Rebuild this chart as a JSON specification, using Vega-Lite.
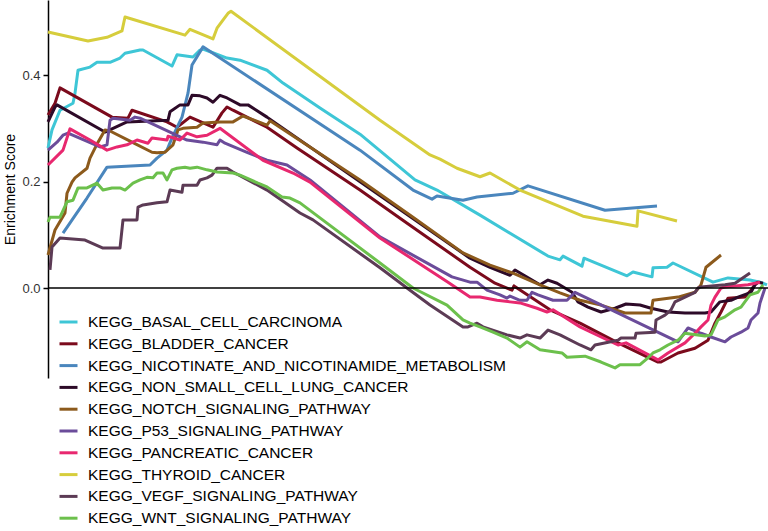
{
  "$schema": "https://vega.github.io/schema/vega-lite/v6.json",
  "width": 720,
  "height": 378,
  "autosize": {"type": "none"},
  "padding": {"left": 48, "top": 0, "right": 0, "bottom": 153},
  "background": "white",
  "config": {"view": {"stroke": null}, "font": "Liberation Sans"},
  "data": {
    "values": [
      {"s": "KEGG_BASAL_CELL_CARCINOMA", "x": 0, "y": 0.263},
      {"s": "KEGG_BASAL_CELL_CARCINOMA", "x": 4, "y": 0.297},
      {"s": "KEGG_BASAL_CELL_CARCINOMA", "x": 12, "y": 0.334},
      {"s": "KEGG_BASAL_CELL_CARCINOMA", "x": 25, "y": 0.347},
      {"s": "KEGG_BASAL_CELL_CARCINOMA", "x": 27, "y": 0.366},
      {"s": "KEGG_BASAL_CELL_CARCINOMA", "x": 30, "y": 0.409},
      {"s": "KEGG_BASAL_CELL_CARCINOMA", "x": 42, "y": 0.415},
      {"s": "KEGG_BASAL_CELL_CARCINOMA", "x": 49, "y": 0.424},
      {"s": "KEGG_BASAL_CELL_CARCINOMA", "x": 62, "y": 0.424},
      {"s": "KEGG_BASAL_CELL_CARCINOMA", "x": 72, "y": 0.432},
      {"s": "KEGG_BASAL_CELL_CARCINOMA", "x": 77, "y": 0.441},
      {"s": "KEGG_BASAL_CELL_CARCINOMA", "x": 92, "y": 0.447},
      {"s": "KEGG_BASAL_CELL_CARCINOMA", "x": 95, "y": 0.447},
      {"s": "KEGG_BASAL_CELL_CARCINOMA", "x": 124, "y": 0.417},
      {"s": "KEGG_BASAL_CELL_CARCINOMA", "x": 129, "y": 0.438},
      {"s": "KEGG_BASAL_CELL_CARCINOMA", "x": 145, "y": 0.434},
      {"s": "KEGG_BASAL_CELL_CARCINOMA", "x": 152, "y": 0.447},
      {"s": "KEGG_BASAL_CELL_CARCINOMA", "x": 155, "y": 0.449},
      {"s": "KEGG_BASAL_CELL_CARCINOMA", "x": 179, "y": 0.432},
      {"s": "KEGG_BASAL_CELL_CARCINOMA", "x": 192, "y": 0.428},
      {"s": "KEGG_BASAL_CELL_CARCINOMA", "x": 219, "y": 0.409},
      {"s": "KEGG_BASAL_CELL_CARCINOMA", "x": 235, "y": 0.385},
      {"s": "KEGG_BASAL_CELL_CARCINOMA", "x": 272, "y": 0.338},
      {"s": "KEGG_BASAL_CELL_CARCINOMA", "x": 312, "y": 0.289},
      {"s": "KEGG_BASAL_CELL_CARCINOMA", "x": 367, "y": 0.203},
      {"s": "KEGG_BASAL_CELL_CARCINOMA", "x": 389, "y": 0.184},
      {"s": "KEGG_BASAL_CELL_CARCINOMA", "x": 432, "y": 0.137},
      {"s": "KEGG_BASAL_CELL_CARCINOMA", "x": 500, "y": 0.060},
      {"s": "KEGG_BASAL_CELL_CARCINOMA", "x": 512, "y": 0.053},
      {"s": "KEGG_BASAL_CELL_CARCINOMA", "x": 515, "y": 0.060},
      {"s": "KEGG_BASAL_CELL_CARCINOMA", "x": 534, "y": 0.041},
      {"s": "KEGG_BASAL_CELL_CARCINOMA", "x": 536, "y": 0.056},
      {"s": "KEGG_BASAL_CELL_CARCINOMA", "x": 579, "y": 0.023},
      {"s": "KEGG_BASAL_CELL_CARCINOMA", "x": 585, "y": 0.030},
      {"s": "KEGG_BASAL_CELL_CARCINOMA", "x": 604, "y": 0.021},
      {"s": "KEGG_BASAL_CELL_CARCINOMA", "x": 605, "y": 0.038},
      {"s": "KEGG_BASAL_CELL_CARCINOMA", "x": 619, "y": 0.039},
      {"s": "KEGG_BASAL_CELL_CARCINOMA", "x": 625, "y": 0.047},
      {"s": "KEGG_BASAL_CELL_CARCINOMA", "x": 665, "y": 0.011},
      {"s": "KEGG_BASAL_CELL_CARCINOMA", "x": 680, "y": 0.019},
      {"s": "KEGG_BASAL_CELL_CARCINOMA", "x": 702, "y": 0.015},
      {"s": "KEGG_BASAL_CELL_CARCINOMA", "x": 712, "y": 0.011},
      {"s": "KEGG_BASAL_CELL_CARCINOMA", "x": 719, "y": 0.006},

      {"s": "KEGG_BLADDER_CANCER", "x": 0, "y": 0.325},
      {"s": "KEGG_BLADDER_CANCER", "x": 7, "y": 0.347},
      {"s": "KEGG_BLADDER_CANCER", "x": 12, "y": 0.376},
      {"s": "KEGG_BLADDER_CANCER", "x": 64, "y": 0.321},
      {"s": "KEGG_BLADDER_CANCER", "x": 80, "y": 0.319},
      {"s": "KEGG_BLADDER_CANCER", "x": 84, "y": 0.334},
      {"s": "KEGG_BLADDER_CANCER", "x": 119, "y": 0.312},
      {"s": "KEGG_BLADDER_CANCER", "x": 129, "y": 0.302},
      {"s": "KEGG_BLADDER_CANCER", "x": 142, "y": 0.321},
      {"s": "KEGG_BLADDER_CANCER", "x": 165, "y": 0.302},
      {"s": "KEGG_BLADDER_CANCER", "x": 174, "y": 0.329},
      {"s": "KEGG_BLADDER_CANCER", "x": 179, "y": 0.340},
      {"s": "KEGG_BLADDER_CANCER", "x": 185, "y": 0.334},
      {"s": "KEGG_BLADDER_CANCER", "x": 219, "y": 0.302},
      {"s": "KEGG_BLADDER_CANCER", "x": 249, "y": 0.263},
      {"s": "KEGG_BLADDER_CANCER", "x": 312, "y": 0.184},
      {"s": "KEGG_BLADDER_CANCER", "x": 352, "y": 0.131},
      {"s": "KEGG_BLADDER_CANCER", "x": 422, "y": 0.039},
      {"s": "KEGG_BLADDER_CANCER", "x": 447, "y": 0.009},
      {"s": "KEGG_BLADDER_CANCER", "x": 464, "y": -0.004},
      {"s": "KEGG_BLADDER_CANCER", "x": 466, "y": 0.004},
      {"s": "KEGG_BLADDER_CANCER", "x": 502, "y": -0.041},
      {"s": "KEGG_BLADDER_CANCER", "x": 532, "y": -0.066},
      {"s": "KEGG_BLADDER_CANCER", "x": 570, "y": -0.103},
      {"s": "KEGG_BLADDER_CANCER", "x": 610, "y": -0.139},
      {"s": "KEGG_BLADDER_CANCER", "x": 613, "y": -0.139},
      {"s": "KEGG_BLADDER_CANCER", "x": 630, "y": -0.122},
      {"s": "KEGG_BLADDER_CANCER", "x": 647, "y": -0.113},
      {"s": "KEGG_BLADDER_CANCER", "x": 660, "y": -0.098},
      {"s": "KEGG_BLADDER_CANCER", "x": 667, "y": -0.066},
      {"s": "KEGG_BLADDER_CANCER", "x": 673, "y": -0.045},
      {"s": "KEGG_BLADDER_CANCER", "x": 680, "y": -0.019},
      {"s": "KEGG_BLADDER_CANCER", "x": 697, "y": -0.017},
      {"s": "KEGG_BLADDER_CANCER", "x": 703, "y": -0.004},
      {"s": "KEGG_BLADDER_CANCER", "x": 708, "y": 0.009},
      {"s": "KEGG_BLADDER_CANCER", "x": 712, "y": 0.011},

      {"s": "KEGG_NICOTINATE_AND_NICOTINAMIDE_METABOLISM", "x": 15, "y": 0.103},
      {"s": "KEGG_NICOTINATE_AND_NICOTINAMIDE_METABOLISM", "x": 39, "y": 0.169},
      {"s": "KEGG_NICOTINATE_AND_NICOTINAMIDE_METABOLISM", "x": 59, "y": 0.227},
      {"s": "KEGG_NICOTINATE_AND_NICOTINAMIDE_METABOLISM", "x": 102, "y": 0.231},
      {"s": "KEGG_NICOTINATE_AND_NICOTINAMIDE_METABOLISM", "x": 109, "y": 0.244},
      {"s": "KEGG_NICOTINATE_AND_NICOTINAMIDE_METABOLISM", "x": 119, "y": 0.259},
      {"s": "KEGG_NICOTINATE_AND_NICOTINAMIDE_METABOLISM", "x": 124, "y": 0.282},
      {"s": "KEGG_NICOTINATE_AND_NICOTINAMIDE_METABOLISM", "x": 134, "y": 0.321},
      {"s": "KEGG_NICOTINATE_AND_NICOTINAMIDE_METABOLISM", "x": 140, "y": 0.366},
      {"s": "KEGG_NICOTINATE_AND_NICOTINAMIDE_METABOLISM", "x": 144, "y": 0.419},
      {"s": "KEGG_NICOTINATE_AND_NICOTINAMIDE_METABOLISM", "x": 155, "y": 0.453},
      {"s": "KEGG_NICOTINATE_AND_NICOTINAMIDE_METABOLISM", "x": 312, "y": 0.259},
      {"s": "KEGG_NICOTINATE_AND_NICOTINAMIDE_METABOLISM", "x": 365, "y": 0.184},
      {"s": "KEGG_NICOTINATE_AND_NICOTINAMIDE_METABOLISM", "x": 384, "y": 0.167},
      {"s": "KEGG_NICOTINATE_AND_NICOTINAMIDE_METABOLISM", "x": 389, "y": 0.173},
      {"s": "KEGG_NICOTINATE_AND_NICOTINAMIDE_METABOLISM", "x": 415, "y": 0.165},
      {"s": "KEGG_NICOTINATE_AND_NICOTINAMIDE_METABOLISM", "x": 429, "y": 0.171},
      {"s": "KEGG_NICOTINATE_AND_NICOTINAMIDE_METABOLISM", "x": 465, "y": 0.178},
      {"s": "KEGG_NICOTINATE_AND_NICOTINAMIDE_METABOLISM", "x": 480, "y": 0.192},
      {"s": "KEGG_NICOTINATE_AND_NICOTINAMIDE_METABOLISM", "x": 557, "y": 0.146},
      {"s": "KEGG_NICOTINATE_AND_NICOTINAMIDE_METABOLISM", "x": 609, "y": 0.154},

      {"s": "KEGG_NON_SMALL_CELL_LUNG_CANCER", "x": 0, "y": 0.312},
      {"s": "KEGG_NON_SMALL_CELL_LUNG_CANCER", "x": 7, "y": 0.340},
      {"s": "KEGG_NON_SMALL_CELL_LUNG_CANCER", "x": 9, "y": 0.344},
      {"s": "KEGG_NON_SMALL_CELL_LUNG_CANCER", "x": 57, "y": 0.293},
      {"s": "KEGG_NON_SMALL_CELL_LUNG_CANCER", "x": 79, "y": 0.312},
      {"s": "KEGG_NON_SMALL_CELL_LUNG_CANCER", "x": 120, "y": 0.315},
      {"s": "KEGG_NON_SMALL_CELL_LUNG_CANCER", "x": 122, "y": 0.331},
      {"s": "KEGG_NON_SMALL_CELL_LUNG_CANCER", "x": 132, "y": 0.344},
      {"s": "KEGG_NON_SMALL_CELL_LUNG_CANCER", "x": 140, "y": 0.344},
      {"s": "KEGG_NON_SMALL_CELL_LUNG_CANCER", "x": 144, "y": 0.362},
      {"s": "KEGG_NON_SMALL_CELL_LUNG_CANCER", "x": 152, "y": 0.361},
      {"s": "KEGG_NON_SMALL_CELL_LUNG_CANCER", "x": 159, "y": 0.357},
      {"s": "KEGG_NON_SMALL_CELL_LUNG_CANCER", "x": 165, "y": 0.349},
      {"s": "KEGG_NON_SMALL_CELL_LUNG_CANCER", "x": 172, "y": 0.362},
      {"s": "KEGG_NON_SMALL_CELL_LUNG_CANCER", "x": 179, "y": 0.357},
      {"s": "KEGG_NON_SMALL_CELL_LUNG_CANCER", "x": 192, "y": 0.344},
      {"s": "KEGG_NON_SMALL_CELL_LUNG_CANCER", "x": 200, "y": 0.344},
      {"s": "KEGG_NON_SMALL_CELL_LUNG_CANCER", "x": 219, "y": 0.321},
      {"s": "KEGG_NON_SMALL_CELL_LUNG_CANCER", "x": 422, "y": 0.056},
      {"s": "KEGG_NON_SMALL_CELL_LUNG_CANCER", "x": 442, "y": 0.039},
      {"s": "KEGG_NON_SMALL_CELL_LUNG_CANCER", "x": 462, "y": 0.024},
      {"s": "KEGG_NON_SMALL_CELL_LUNG_CANCER", "x": 467, "y": 0.034},
      {"s": "KEGG_NON_SMALL_CELL_LUNG_CANCER", "x": 492, "y": 0.006},
      {"s": "KEGG_NON_SMALL_CELL_LUNG_CANCER", "x": 500, "y": 0.015},
      {"s": "KEGG_NON_SMALL_CELL_LUNG_CANCER", "x": 509, "y": 0.009},
      {"s": "KEGG_NON_SMALL_CELL_LUNG_CANCER", "x": 524, "y": -0.008},
      {"s": "KEGG_NON_SMALL_CELL_LUNG_CANCER", "x": 530, "y": -0.026},
      {"s": "KEGG_NON_SMALL_CELL_LUNG_CANCER", "x": 540, "y": -0.036},
      {"s": "KEGG_NON_SMALL_CELL_LUNG_CANCER", "x": 553, "y": -0.045},
      {"s": "KEGG_NON_SMALL_CELL_LUNG_CANCER", "x": 567, "y": -0.038},
      {"s": "KEGG_NON_SMALL_CELL_LUNG_CANCER", "x": 578, "y": -0.030},
      {"s": "KEGG_NON_SMALL_CELL_LUNG_CANCER", "x": 592, "y": -0.032},
      {"s": "KEGG_NON_SMALL_CELL_LUNG_CANCER", "x": 603, "y": -0.038},
      {"s": "KEGG_NON_SMALL_CELL_LUNG_CANCER", "x": 620, "y": -0.045},
      {"s": "KEGG_NON_SMALL_CELL_LUNG_CANCER", "x": 637, "y": -0.047},
      {"s": "KEGG_NON_SMALL_CELL_LUNG_CANCER", "x": 657, "y": -0.047},
      {"s": "KEGG_NON_SMALL_CELL_LUNG_CANCER", "x": 663, "y": -0.045},
      {"s": "KEGG_NON_SMALL_CELL_LUNG_CANCER", "x": 672, "y": -0.026},
      {"s": "KEGG_NON_SMALL_CELL_LUNG_CANCER", "x": 683, "y": -0.023},
      {"s": "KEGG_NON_SMALL_CELL_LUNG_CANCER", "x": 690, "y": -0.017},
      {"s": "KEGG_NON_SMALL_CELL_LUNG_CANCER", "x": 703, "y": -0.008},
      {"s": "KEGG_NON_SMALL_CELL_LUNG_CANCER", "x": 707, "y": 0.006},
      {"s": "KEGG_NON_SMALL_CELL_LUNG_CANCER", "x": 710, "y": 0.011},
      {"s": "KEGG_NON_SMALL_CELL_LUNG_CANCER", "x": 715, "y": 0.009},

      {"s": "KEGG_NOTCH_SIGNALING_PATHWAY", "x": 0, "y": 0.062},
      {"s": "KEGG_NOTCH_SIGNALING_PATHWAY", "x": 7, "y": 0.109},
      {"s": "KEGG_NOTCH_SIGNALING_PATHWAY", "x": 17, "y": 0.141},
      {"s": "KEGG_NOTCH_SIGNALING_PATHWAY", "x": 19, "y": 0.178},
      {"s": "KEGG_NOTCH_SIGNALING_PATHWAY", "x": 24, "y": 0.199},
      {"s": "KEGG_NOTCH_SIGNALING_PATHWAY", "x": 27, "y": 0.207},
      {"s": "KEGG_NOTCH_SIGNALING_PATHWAY", "x": 39, "y": 0.225},
      {"s": "KEGG_NOTCH_SIGNALING_PATHWAY", "x": 42, "y": 0.244},
      {"s": "KEGG_NOTCH_SIGNALING_PATHWAY", "x": 50, "y": 0.274},
      {"s": "KEGG_NOTCH_SIGNALING_PATHWAY", "x": 57, "y": 0.297},
      {"s": "KEGG_NOTCH_SIGNALING_PATHWAY", "x": 62, "y": 0.295},
      {"s": "KEGG_NOTCH_SIGNALING_PATHWAY", "x": 84, "y": 0.274},
      {"s": "KEGG_NOTCH_SIGNALING_PATHWAY", "x": 104, "y": 0.255},
      {"s": "KEGG_NOTCH_SIGNALING_PATHWAY", "x": 109, "y": 0.254},
      {"s": "KEGG_NOTCH_SIGNALING_PATHWAY", "x": 117, "y": 0.255},
      {"s": "KEGG_NOTCH_SIGNALING_PATHWAY", "x": 125, "y": 0.269},
      {"s": "KEGG_NOTCH_SIGNALING_PATHWAY", "x": 130, "y": 0.297},
      {"s": "KEGG_NOTCH_SIGNALING_PATHWAY", "x": 135, "y": 0.300},
      {"s": "KEGG_NOTCH_SIGNALING_PATHWAY", "x": 149, "y": 0.302},
      {"s": "KEGG_NOTCH_SIGNALING_PATHWAY", "x": 155, "y": 0.310},
      {"s": "KEGG_NOTCH_SIGNALING_PATHWAY", "x": 172, "y": 0.312},
      {"s": "KEGG_NOTCH_SIGNALING_PATHWAY", "x": 185, "y": 0.312},
      {"s": "KEGG_NOTCH_SIGNALING_PATHWAY", "x": 195, "y": 0.323},
      {"s": "KEGG_NOTCH_SIGNALING_PATHWAY", "x": 219, "y": 0.306},
      {"s": "KEGG_NOTCH_SIGNALING_PATHWAY", "x": 222, "y": 0.314},
      {"s": "KEGG_NOTCH_SIGNALING_PATHWAY", "x": 312, "y": 0.203},
      {"s": "KEGG_NOTCH_SIGNALING_PATHWAY", "x": 365, "y": 0.133},
      {"s": "KEGG_NOTCH_SIGNALING_PATHWAY", "x": 415, "y": 0.066},
      {"s": "KEGG_NOTCH_SIGNALING_PATHWAY", "x": 442, "y": 0.043},
      {"s": "KEGG_NOTCH_SIGNALING_PATHWAY", "x": 465, "y": 0.028},
      {"s": "KEGG_NOTCH_SIGNALING_PATHWAY", "x": 492, "y": 0.006},
      {"s": "KEGG_NOTCH_SIGNALING_PATHWAY", "x": 512, "y": -0.009},
      {"s": "KEGG_NOTCH_SIGNALING_PATHWAY", "x": 532, "y": -0.023},
      {"s": "KEGG_NOTCH_SIGNALING_PATHWAY", "x": 553, "y": -0.032},
      {"s": "KEGG_NOTCH_SIGNALING_PATHWAY", "x": 577, "y": -0.047},
      {"s": "KEGG_NOTCH_SIGNALING_PATHWAY", "x": 603, "y": -0.047},
      {"s": "KEGG_NOTCH_SIGNALING_PATHWAY", "x": 605, "y": -0.023},
      {"s": "KEGG_NOTCH_SIGNALING_PATHWAY", "x": 630, "y": -0.017},
      {"s": "KEGG_NOTCH_SIGNALING_PATHWAY", "x": 647, "y": -0.008},
      {"s": "KEGG_NOTCH_SIGNALING_PATHWAY", "x": 653, "y": 0.006},
      {"s": "KEGG_NOTCH_SIGNALING_PATHWAY", "x": 658, "y": 0.039},
      {"s": "KEGG_NOTCH_SIGNALING_PATHWAY", "x": 673, "y": 0.062},

      {"s": "KEGG_P53_SIGNALING_PATHWAY", "x": 0, "y": 0.259},
      {"s": "KEGG_P53_SIGNALING_PATHWAY", "x": 9, "y": 0.274},
      {"s": "KEGG_P53_SIGNALING_PATHWAY", "x": 15, "y": 0.287},
      {"s": "KEGG_P53_SIGNALING_PATHWAY", "x": 20, "y": 0.291},
      {"s": "KEGG_P53_SIGNALING_PATHWAY", "x": 52, "y": 0.265},
      {"s": "KEGG_P53_SIGNALING_PATHWAY", "x": 59, "y": 0.269},
      {"s": "KEGG_P53_SIGNALING_PATHWAY", "x": 62, "y": 0.315},
      {"s": "KEGG_P53_SIGNALING_PATHWAY", "x": 65, "y": 0.319},
      {"s": "KEGG_P53_SIGNALING_PATHWAY", "x": 82, "y": 0.315},
      {"s": "KEGG_P53_SIGNALING_PATHWAY", "x": 87, "y": 0.321},
      {"s": "KEGG_P53_SIGNALING_PATHWAY", "x": 92, "y": 0.319},
      {"s": "KEGG_P53_SIGNALING_PATHWAY", "x": 122, "y": 0.293},
      {"s": "KEGG_P53_SIGNALING_PATHWAY", "x": 139, "y": 0.278},
      {"s": "KEGG_P53_SIGNALING_PATHWAY", "x": 155, "y": 0.274},
      {"s": "KEGG_P53_SIGNALING_PATHWAY", "x": 169, "y": 0.269},
      {"s": "KEGG_P53_SIGNALING_PATHWAY", "x": 172, "y": 0.278},
      {"s": "KEGG_P53_SIGNALING_PATHWAY", "x": 177, "y": 0.272},
      {"s": "KEGG_P53_SIGNALING_PATHWAY", "x": 199, "y": 0.255},
      {"s": "KEGG_P53_SIGNALING_PATHWAY", "x": 219, "y": 0.240},
      {"s": "KEGG_P53_SIGNALING_PATHWAY", "x": 239, "y": 0.231},
      {"s": "KEGG_P53_SIGNALING_PATHWAY", "x": 262, "y": 0.203},
      {"s": "KEGG_P53_SIGNALING_PATHWAY", "x": 332, "y": 0.096},
      {"s": "KEGG_P53_SIGNALING_PATHWAY", "x": 404, "y": 0.021},
      {"s": "KEGG_P53_SIGNALING_PATHWAY", "x": 422, "y": 0.011},
      {"s": "KEGG_P53_SIGNALING_PATHWAY", "x": 429, "y": 0.011},
      {"s": "KEGG_P53_SIGNALING_PATHWAY", "x": 439, "y": -0.004},
      {"s": "KEGG_P53_SIGNALING_PATHWAY", "x": 452, "y": -0.013},
      {"s": "KEGG_P53_SIGNALING_PATHWAY", "x": 459, "y": -0.019},
      {"s": "KEGG_P53_SIGNALING_PATHWAY", "x": 462, "y": -0.015},
      {"s": "KEGG_P53_SIGNALING_PATHWAY", "x": 472, "y": -0.023},
      {"s": "KEGG_P53_SIGNALING_PATHWAY", "x": 479, "y": -0.023},
      {"s": "KEGG_P53_SIGNALING_PATHWAY", "x": 484, "y": -0.008},
      {"s": "KEGG_P53_SIGNALING_PATHWAY", "x": 490, "y": -0.013},
      {"s": "KEGG_P53_SIGNALING_PATHWAY", "x": 505, "y": -0.023},
      {"s": "KEGG_P53_SIGNALING_PATHWAY", "x": 519, "y": -0.023},
      {"s": "KEGG_P53_SIGNALING_PATHWAY", "x": 527, "y": -0.008},
      {"s": "KEGG_P53_SIGNALING_PATHWAY", "x": 630, "y": -0.101},
      {"s": "KEGG_P53_SIGNALING_PATHWAY", "x": 640, "y": -0.075},
      {"s": "KEGG_P53_SIGNALING_PATHWAY", "x": 653, "y": -0.085},
      {"s": "KEGG_P53_SIGNALING_PATHWAY", "x": 663, "y": -0.092},
      {"s": "KEGG_P53_SIGNALING_PATHWAY", "x": 677, "y": -0.101},
      {"s": "KEGG_P53_SIGNALING_PATHWAY", "x": 683, "y": -0.092},
      {"s": "KEGG_P53_SIGNALING_PATHWAY", "x": 693, "y": -0.083},
      {"s": "KEGG_P53_SIGNALING_PATHWAY", "x": 700, "y": -0.075},
      {"s": "KEGG_P53_SIGNALING_PATHWAY", "x": 703, "y": -0.060},
      {"s": "KEGG_P53_SIGNALING_PATHWAY", "x": 710, "y": -0.047},
      {"s": "KEGG_P53_SIGNALING_PATHWAY", "x": 712, "y": -0.028},
      {"s": "KEGG_P53_SIGNALING_PATHWAY", "x": 717, "y": 0.000},

      {"s": "KEGG_PANCREATIC_CANCER", "x": 0, "y": 0.231},
      {"s": "KEGG_PANCREATIC_CANCER", "x": 15, "y": 0.259},
      {"s": "KEGG_PANCREATIC_CANCER", "x": 22, "y": 0.299},
      {"s": "KEGG_PANCREATIC_CANCER", "x": 42, "y": 0.278},
      {"s": "KEGG_PANCREATIC_CANCER", "x": 59, "y": 0.259},
      {"s": "KEGG_PANCREATIC_CANCER", "x": 69, "y": 0.265},
      {"s": "KEGG_PANCREATIC_CANCER", "x": 79, "y": 0.269},
      {"s": "KEGG_PANCREATIC_CANCER", "x": 89, "y": 0.278},
      {"s": "KEGG_PANCREATIC_CANCER", "x": 100, "y": 0.272},
      {"s": "KEGG_PANCREATIC_CANCER", "x": 104, "y": 0.282},
      {"s": "KEGG_PANCREATIC_CANCER", "x": 119, "y": 0.278},
      {"s": "KEGG_PANCREATIC_CANCER", "x": 120, "y": 0.285},
      {"s": "KEGG_PANCREATIC_CANCER", "x": 132, "y": 0.278},
      {"s": "KEGG_PANCREATIC_CANCER", "x": 139, "y": 0.291},
      {"s": "KEGG_PANCREATIC_CANCER", "x": 149, "y": 0.284},
      {"s": "KEGG_PANCREATIC_CANCER", "x": 159, "y": 0.287},
      {"s": "KEGG_PANCREATIC_CANCER", "x": 172, "y": 0.300},
      {"s": "KEGG_PANCREATIC_CANCER", "x": 215, "y": 0.240},
      {"s": "KEGG_PANCREATIC_CANCER", "x": 245, "y": 0.216},
      {"s": "KEGG_PANCREATIC_CANCER", "x": 262, "y": 0.199},
      {"s": "KEGG_PANCREATIC_CANCER", "x": 332, "y": 0.094},
      {"s": "KEGG_PANCREATIC_CANCER", "x": 400, "y": 0.011},
      {"s": "KEGG_PANCREATIC_CANCER", "x": 422, "y": -0.017},
      {"s": "KEGG_PANCREATIC_CANCER", "x": 432, "y": -0.017},
      {"s": "KEGG_PANCREATIC_CANCER", "x": 449, "y": -0.023},
      {"s": "KEGG_PANCREATIC_CANCER", "x": 462, "y": -0.026},
      {"s": "KEGG_PANCREATIC_CANCER", "x": 472, "y": -0.028},
      {"s": "KEGG_PANCREATIC_CANCER", "x": 489, "y": -0.038},
      {"s": "KEGG_PANCREATIC_CANCER", "x": 499, "y": -0.045},
      {"s": "KEGG_PANCREATIC_CANCER", "x": 505, "y": -0.041},
      {"s": "KEGG_PANCREATIC_CANCER", "x": 532, "y": -0.073},
      {"s": "KEGG_PANCREATIC_CANCER", "x": 570, "y": -0.107},
      {"s": "KEGG_PANCREATIC_CANCER", "x": 578, "y": -0.103},
      {"s": "KEGG_PANCREATIC_CANCER", "x": 610, "y": -0.135},
      {"s": "KEGG_PANCREATIC_CANCER", "x": 620, "y": -0.122},
      {"s": "KEGG_PANCREATIC_CANCER", "x": 637, "y": -0.103},
      {"s": "KEGG_PANCREATIC_CANCER", "x": 648, "y": -0.083},
      {"s": "KEGG_PANCREATIC_CANCER", "x": 653, "y": -0.073},
      {"s": "KEGG_PANCREATIC_CANCER", "x": 660, "y": -0.060},
      {"s": "KEGG_PANCREATIC_CANCER", "x": 663, "y": -0.032},
      {"s": "KEGG_PANCREATIC_CANCER", "x": 667, "y": -0.017},
      {"s": "KEGG_PANCREATIC_CANCER", "x": 673, "y": 0.000},
      {"s": "KEGG_PANCREATIC_CANCER", "x": 677, "y": 0.002},
      {"s": "KEGG_PANCREATIC_CANCER", "x": 700, "y": 0.006},
      {"s": "KEGG_PANCREATIC_CANCER", "x": 707, "y": 0.009},
      {"s": "KEGG_PANCREATIC_CANCER", "x": 712, "y": 0.011},

      {"s": "KEGG_THYROID_CANCER", "x": 0, "y": 0.481},
      {"s": "KEGG_THYROID_CANCER", "x": 40, "y": 0.464},
      {"s": "KEGG_THYROID_CANCER", "x": 59, "y": 0.471},
      {"s": "KEGG_THYROID_CANCER", "x": 74, "y": 0.483},
      {"s": "KEGG_THYROID_CANCER", "x": 77, "y": 0.509},
      {"s": "KEGG_THYROID_CANCER", "x": 137, "y": 0.475},
      {"s": "KEGG_THYROID_CANCER", "x": 142, "y": 0.486},
      {"s": "KEGG_THYROID_CANCER", "x": 165, "y": 0.468},
      {"s": "KEGG_THYROID_CANCER", "x": 169, "y": 0.488},
      {"s": "KEGG_THYROID_CANCER", "x": 174, "y": 0.501},
      {"s": "KEGG_THYROID_CANCER", "x": 180, "y": 0.516},
      {"s": "KEGG_THYROID_CANCER", "x": 183, "y": 0.520},
      {"s": "KEGG_THYROID_CANCER", "x": 332, "y": 0.315},
      {"s": "KEGG_THYROID_CANCER", "x": 382, "y": 0.250},
      {"s": "KEGG_THYROID_CANCER", "x": 392, "y": 0.242},
      {"s": "KEGG_THYROID_CANCER", "x": 409, "y": 0.225},
      {"s": "KEGG_THYROID_CANCER", "x": 432, "y": 0.209},
      {"s": "KEGG_THYROID_CANCER", "x": 442, "y": 0.216},
      {"s": "KEGG_THYROID_CANCER", "x": 472, "y": 0.184},
      {"s": "KEGG_THYROID_CANCER", "x": 535, "y": 0.135},
      {"s": "KEGG_THYROID_CANCER", "x": 589, "y": 0.116},
      {"s": "KEGG_THYROID_CANCER", "x": 590, "y": 0.145},
      {"s": "KEGG_THYROID_CANCER", "x": 629, "y": 0.126},

      {"s": "KEGG_VEGF_SIGNALING_PATHWAY", "x": 2, "y": 0.034},
      {"s": "KEGG_VEGF_SIGNALING_PATHWAY", "x": 4, "y": 0.077},
      {"s": "KEGG_VEGF_SIGNALING_PATHWAY", "x": 12, "y": 0.094},
      {"s": "KEGG_VEGF_SIGNALING_PATHWAY", "x": 37, "y": 0.090},
      {"s": "KEGG_VEGF_SIGNALING_PATHWAY", "x": 55, "y": 0.075},
      {"s": "KEGG_VEGF_SIGNALING_PATHWAY", "x": 72, "y": 0.075},
      {"s": "KEGG_VEGF_SIGNALING_PATHWAY", "x": 75, "y": 0.128},
      {"s": "KEGG_VEGF_SIGNALING_PATHWAY", "x": 89, "y": 0.128},
      {"s": "KEGG_VEGF_SIGNALING_PATHWAY", "x": 90, "y": 0.152},
      {"s": "KEGG_VEGF_SIGNALING_PATHWAY", "x": 95, "y": 0.156},
      {"s": "KEGG_VEGF_SIGNALING_PATHWAY", "x": 109, "y": 0.160},
      {"s": "KEGG_VEGF_SIGNALING_PATHWAY", "x": 119, "y": 0.162},
      {"s": "KEGG_VEGF_SIGNALING_PATHWAY", "x": 122, "y": 0.184},
      {"s": "KEGG_VEGF_SIGNALING_PATHWAY", "x": 134, "y": 0.180},
      {"s": "KEGG_VEGF_SIGNALING_PATHWAY", "x": 135, "y": 0.193},
      {"s": "KEGG_VEGF_SIGNALING_PATHWAY", "x": 149, "y": 0.193},
      {"s": "KEGG_VEGF_SIGNALING_PATHWAY", "x": 152, "y": 0.203},
      {"s": "KEGG_VEGF_SIGNALING_PATHWAY", "x": 159, "y": 0.207},
      {"s": "KEGG_VEGF_SIGNALING_PATHWAY", "x": 164, "y": 0.212},
      {"s": "KEGG_VEGF_SIGNALING_PATHWAY", "x": 169, "y": 0.225},
      {"s": "KEGG_VEGF_SIGNALING_PATHWAY", "x": 179, "y": 0.225},
      {"s": "KEGG_VEGF_SIGNALING_PATHWAY", "x": 185, "y": 0.218},
      {"s": "KEGG_VEGF_SIGNALING_PATHWAY", "x": 219, "y": 0.184},
      {"s": "KEGG_VEGF_SIGNALING_PATHWAY", "x": 252, "y": 0.141},
      {"s": "KEGG_VEGF_SIGNALING_PATHWAY", "x": 265, "y": 0.128},
      {"s": "KEGG_VEGF_SIGNALING_PATHWAY", "x": 332, "y": 0.038},
      {"s": "KEGG_VEGF_SIGNALING_PATHWAY", "x": 359, "y": 0.000},
      {"s": "KEGG_VEGF_SIGNALING_PATHWAY", "x": 382, "y": -0.032},
      {"s": "KEGG_VEGF_SIGNALING_PATHWAY", "x": 415, "y": -0.073},
      {"s": "KEGG_VEGF_SIGNALING_PATHWAY", "x": 420, "y": -0.073},
      {"s": "KEGG_VEGF_SIGNALING_PATHWAY", "x": 429, "y": -0.066},
      {"s": "KEGG_VEGF_SIGNALING_PATHWAY", "x": 435, "y": -0.073},
      {"s": "KEGG_VEGF_SIGNALING_PATHWAY", "x": 459, "y": -0.088},
      {"s": "KEGG_VEGF_SIGNALING_PATHWAY", "x": 472, "y": -0.094},
      {"s": "KEGG_VEGF_SIGNALING_PATHWAY", "x": 479, "y": -0.088},
      {"s": "KEGG_VEGF_SIGNALING_PATHWAY", "x": 492, "y": -0.094},
      {"s": "KEGG_VEGF_SIGNALING_PATHWAY", "x": 500, "y": -0.079},
      {"s": "KEGG_VEGF_SIGNALING_PATHWAY", "x": 512, "y": -0.088},
      {"s": "KEGG_VEGF_SIGNALING_PATHWAY", "x": 532, "y": -0.107},
      {"s": "KEGG_VEGF_SIGNALING_PATHWAY", "x": 543, "y": -0.116},
      {"s": "KEGG_VEGF_SIGNALING_PATHWAY", "x": 547, "y": -0.107},
      {"s": "KEGG_VEGF_SIGNALING_PATHWAY", "x": 570, "y": -0.098},
      {"s": "KEGG_VEGF_SIGNALING_PATHWAY", "x": 573, "y": -0.094},
      {"s": "KEGG_VEGF_SIGNALING_PATHWAY", "x": 587, "y": -0.094},
      {"s": "KEGG_VEGF_SIGNALING_PATHWAY", "x": 588, "y": -0.085},
      {"s": "KEGG_VEGF_SIGNALING_PATHWAY", "x": 607, "y": -0.083},
      {"s": "KEGG_VEGF_SIGNALING_PATHWAY", "x": 608, "y": -0.060},
      {"s": "KEGG_VEGF_SIGNALING_PATHWAY", "x": 617, "y": -0.051},
      {"s": "KEGG_VEGF_SIGNALING_PATHWAY", "x": 623, "y": -0.041},
      {"s": "KEGG_VEGF_SIGNALING_PATHWAY", "x": 627, "y": -0.026},
      {"s": "KEGG_VEGF_SIGNALING_PATHWAY", "x": 637, "y": -0.017},
      {"s": "KEGG_VEGF_SIGNALING_PATHWAY", "x": 647, "y": -0.008},
      {"s": "KEGG_VEGF_SIGNALING_PATHWAY", "x": 650, "y": 0.000},
      {"s": "KEGG_VEGF_SIGNALING_PATHWAY", "x": 653, "y": 0.002},
      {"s": "KEGG_VEGF_SIGNALING_PATHWAY", "x": 677, "y": 0.006},
      {"s": "KEGG_VEGF_SIGNALING_PATHWAY", "x": 687, "y": 0.009},
      {"s": "KEGG_VEGF_SIGNALING_PATHWAY", "x": 702, "y": 0.028},

      {"s": "KEGG_WNT_SIGNALING_PATHWAY", "x": 0, "y": 0.124},
      {"s": "KEGG_WNT_SIGNALING_PATHWAY", "x": 2, "y": 0.133},
      {"s": "KEGG_WNT_SIGNALING_PATHWAY", "x": 12, "y": 0.133},
      {"s": "KEGG_WNT_SIGNALING_PATHWAY", "x": 19, "y": 0.162},
      {"s": "KEGG_WNT_SIGNALING_PATHWAY", "x": 25, "y": 0.165},
      {"s": "KEGG_WNT_SIGNALING_PATHWAY", "x": 30, "y": 0.188},
      {"s": "KEGG_WNT_SIGNALING_PATHWAY", "x": 39, "y": 0.188},
      {"s": "KEGG_WNT_SIGNALING_PATHWAY", "x": 49, "y": 0.197},
      {"s": "KEGG_WNT_SIGNALING_PATHWAY", "x": 55, "y": 0.184},
      {"s": "KEGG_WNT_SIGNALING_PATHWAY", "x": 64, "y": 0.188},
      {"s": "KEGG_WNT_SIGNALING_PATHWAY", "x": 72, "y": 0.188},
      {"s": "KEGG_WNT_SIGNALING_PATHWAY", "x": 77, "y": 0.184},
      {"s": "KEGG_WNT_SIGNALING_PATHWAY", "x": 85, "y": 0.197},
      {"s": "KEGG_WNT_SIGNALING_PATHWAY", "x": 92, "y": 0.203},
      {"s": "KEGG_WNT_SIGNALING_PATHWAY", "x": 99, "y": 0.208},
      {"s": "KEGG_WNT_SIGNALING_PATHWAY", "x": 105, "y": 0.207},
      {"s": "KEGG_WNT_SIGNALING_PATHWAY", "x": 109, "y": 0.216},
      {"s": "KEGG_WNT_SIGNALING_PATHWAY", "x": 115, "y": 0.216},
      {"s": "KEGG_WNT_SIGNALING_PATHWAY", "x": 119, "y": 0.203},
      {"s": "KEGG_WNT_SIGNALING_PATHWAY", "x": 124, "y": 0.222},
      {"s": "KEGG_WNT_SIGNALING_PATHWAY", "x": 129, "y": 0.225},
      {"s": "KEGG_WNT_SIGNALING_PATHWAY", "x": 137, "y": 0.227},
      {"s": "KEGG_WNT_SIGNALING_PATHWAY", "x": 142, "y": 0.225},
      {"s": "KEGG_WNT_SIGNALING_PATHWAY", "x": 149, "y": 0.227},
      {"s": "KEGG_WNT_SIGNALING_PATHWAY", "x": 159, "y": 0.222},
      {"s": "KEGG_WNT_SIGNALING_PATHWAY", "x": 169, "y": 0.218},
      {"s": "KEGG_WNT_SIGNALING_PATHWAY", "x": 185, "y": 0.216},
      {"s": "KEGG_WNT_SIGNALING_PATHWAY", "x": 192, "y": 0.212},
      {"s": "KEGG_WNT_SIGNALING_PATHWAY", "x": 210, "y": 0.197},
      {"s": "KEGG_WNT_SIGNALING_PATHWAY", "x": 219, "y": 0.190},
      {"s": "KEGG_WNT_SIGNALING_PATHWAY", "x": 234, "y": 0.171},
      {"s": "KEGG_WNT_SIGNALING_PATHWAY", "x": 242, "y": 0.169},
      {"s": "KEGG_WNT_SIGNALING_PATHWAY", "x": 252, "y": 0.160},
      {"s": "KEGG_WNT_SIGNALING_PATHWAY", "x": 332, "y": 0.047},
      {"s": "KEGG_WNT_SIGNALING_PATHWAY", "x": 365, "y": 0.000},
      {"s": "KEGG_WNT_SIGNALING_PATHWAY", "x": 399, "y": -0.032},
      {"s": "KEGG_WNT_SIGNALING_PATHWAY", "x": 415, "y": -0.060},
      {"s": "KEGG_WNT_SIGNALING_PATHWAY", "x": 422, "y": -0.066},
      {"s": "KEGG_WNT_SIGNALING_PATHWAY", "x": 432, "y": -0.073},
      {"s": "KEGG_WNT_SIGNALING_PATHWAY", "x": 445, "y": -0.083},
      {"s": "KEGG_WNT_SIGNALING_PATHWAY", "x": 459, "y": -0.094},
      {"s": "KEGG_WNT_SIGNALING_PATHWAY", "x": 472, "y": -0.111},
      {"s": "KEGG_WNT_SIGNALING_PATHWAY", "x": 479, "y": -0.101},
      {"s": "KEGG_WNT_SIGNALING_PATHWAY", "x": 492, "y": -0.116},
      {"s": "KEGG_WNT_SIGNALING_PATHWAY", "x": 514, "y": -0.122},
      {"s": "KEGG_WNT_SIGNALING_PATHWAY", "x": 519, "y": -0.130},
      {"s": "KEGG_WNT_SIGNALING_PATHWAY", "x": 537, "y": -0.128},
      {"s": "KEGG_WNT_SIGNALING_PATHWAY", "x": 553, "y": -0.139},
      {"s": "KEGG_WNT_SIGNALING_PATHWAY", "x": 567, "y": -0.150},
      {"s": "KEGG_WNT_SIGNALING_PATHWAY", "x": 572, "y": -0.144},
      {"s": "KEGG_WNT_SIGNALING_PATHWAY", "x": 592, "y": -0.144},
      {"s": "KEGG_WNT_SIGNALING_PATHWAY", "x": 600, "y": -0.131},
      {"s": "KEGG_WNT_SIGNALING_PATHWAY", "x": 605, "y": -0.122},
      {"s": "KEGG_WNT_SIGNALING_PATHWAY", "x": 612, "y": -0.116},
      {"s": "KEGG_WNT_SIGNALING_PATHWAY", "x": 620, "y": -0.107},
      {"s": "KEGG_WNT_SIGNALING_PATHWAY", "x": 630, "y": -0.098},
      {"s": "KEGG_WNT_SIGNALING_PATHWAY", "x": 637, "y": -0.085},
      {"s": "KEGG_WNT_SIGNALING_PATHWAY", "x": 657, "y": -0.090},
      {"s": "KEGG_WNT_SIGNALING_PATHWAY", "x": 663, "y": -0.088},
      {"s": "KEGG_WNT_SIGNALING_PATHWAY", "x": 670, "y": -0.060},
      {"s": "KEGG_WNT_SIGNALING_PATHWAY", "x": 677, "y": -0.054},
      {"s": "KEGG_WNT_SIGNALING_PATHWAY", "x": 687, "y": -0.041},
      {"s": "KEGG_WNT_SIGNALING_PATHWAY", "x": 693, "y": -0.036},
      {"s": "KEGG_WNT_SIGNALING_PATHWAY", "x": 702, "y": -0.013},
      {"s": "KEGG_WNT_SIGNALING_PATHWAY", "x": 710, "y": -0.008},
      {"s": "KEGG_WNT_SIGNALING_PATHWAY", "x": 715, "y": 0.006}
    ]
  },
  "layer": [
    {
      "mark": {"type": "line", "strokeWidth": 3, "strokeJoin": "round"},
      "encoding": {
        "x": {
          "field": "x",
          "type": "quantitative",
          "scale": {"domain": [0, 720], "nice": false, "zero": false},
          "axis": null
        },
        "y": {
          "field": "y",
          "type": "quantitative",
          "scale": {"domain": [-0.169, 0.541], "nice": false, "zero": false},
          "axis": {
            "values": [0, 0.2, 0.4],
            "format": ".1f",
            "title": "Enrichment Score",
            "grid": false,
            "domainColor": "black",
            "domainWidth": 1.5,
            "tickColor": "black",
            "tickWidth": 1.5,
            "tickSize": 5,
            "labelFontSize": 13,
            "labelColor": "#333333",
            "labelPadding": 3,
            "titleFontSize": 14,
            "titleFontWeight": "normal",
            "titleColor": "black",
            "titlePadding": 4
          }
        },
        "color": {
          "field": "s",
          "type": "nominal",
          "scale": {
            "domain": [
              "KEGG_BASAL_CELL_CARCINOMA",
              "KEGG_BLADDER_CANCER",
              "KEGG_NICOTINATE_AND_NICOTINAMIDE_METABOLISM",
              "KEGG_NON_SMALL_CELL_LUNG_CANCER",
              "KEGG_NOTCH_SIGNALING_PATHWAY",
              "KEGG_P53_SIGNALING_PATHWAY",
              "KEGG_PANCREATIC_CANCER",
              "KEGG_THYROID_CANCER",
              "KEGG_VEGF_SIGNALING_PATHWAY",
              "KEGG_WNT_SIGNALING_PATHWAY"
            ],
            "range": ["#3ec6d6", "#7b0a1c", "#4a86bd", "#2d0a28", "#8c5a1c", "#6b4c9a", "#e8286f", "#d6cd3c", "#5c3b55", "#6cc04c"]
          },
          "legend": {
            "orient": "none",
            "legendX": 10,
            "legendY": 311.5,
            "title": null,
            "padding": 0,
            "symbolType": "stroke",
            "symbolSize": 324,
            "symbolStrokeWidth": 3,
            "labelFontSize": 15.5,
            "labelColor": "black",
            "labelOffset": 9,
            "labelLimit": 600,
            "rowPadding": 2.8
          }
        }
      }
    },
    {
      "data": {"values": [{}]},
      "mark": {"type": "rule", "color": "black", "strokeWidth": 1.5},
      "encoding": {"y": {"datum": 0}}
    }
  ]
}
